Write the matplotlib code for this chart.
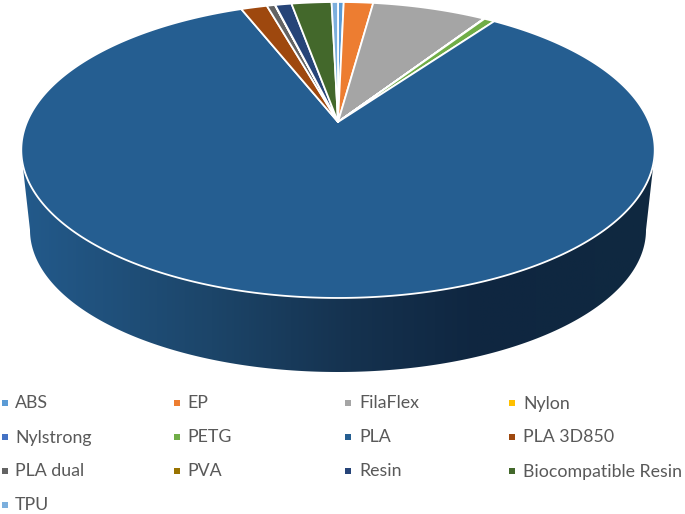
import numpy as np
import matplotlib
matplotlib.use("Agg")
import matplotlib.pyplot as plt
from matplotlib.colors import LinearSegmentedColormap
from matplotlib.patches import Polygon

categories = ["ABS", "EP", "FilaFlex", "Nylon", "Nylstrong", "PETG", "PLA", "PLA 3D850",
              "PLA dual", "PVA", "Resin", "Biocompatible Resin", "TPU"]
values = [0.35, 1.80, 7.00, 0.02, 0.02, 0.65, 84.20, 1.60, 0.50, 0.02, 1.00, 2.45, 0.39]
colors = ["#5b9bd5", "#ed7d31", "#a5a5a5", "#ffc000", "#4472c4", "#70ad47", "#255e91",
          "#9e480e", "#636363", "#997300", "#264478", "#43682b", "#7cafdd"]

fig = plt.figure(figsize=(6.85, 5.14), dpi=100)
ax = fig.add_axes([0, 0, 1, 1])
ax.set_xlim(0, 685)
ax.set_ylim(514, 0)
ax.axis("off")

# perspective projection of a unit circle
APEX = (338.0, 122.0)
K = 0.189
A = 142.7
B = 311.0


def project(theta):
    X, Y = np.sin(theta), np.cos(theta)
    w = 1 + K * Y
    return APEX[0] + B * X / w, APEX[1] - A * Y / w


# side wall
t = np.linspace(0, np.pi, 200)
low_x = 338 - 308 * np.cos(t)
low_y = 230 + 142 * np.sin(t)
up_x = 338 + 317 * np.cos(t)
up_y = 150 + 147.5 * np.sin(t)
wall = Polygon(np.column_stack([np.r_[low_x, up_x], np.r_[low_y, up_y]]),
               closed=True, transform=ax.transData, fc="none", ec="none")
ax.add_patch(wall)
cmap = LinearSegmentedColormap.from_list(
    "wall", [(0.0, "#235a8b"), (0.3, "#1c4569"), (0.52, "#15324f"), (0.72, "#0f2640"), (1.0, "#0f2940")])
img = ax.imshow(np.linspace(0, 1, 512)[None, :], cmap=cmap, aspect="auto",
                extent=(21, 655, 380, 140), zorder=1)
img.set_clip_path(wall)
ax.set_xlim(0, 685)
ax.set_ylim(514, 0)

# top face
fractions = np.cumsum([0] + values) / sum(values)
for i, (name, col) in enumerate(zip(categories, colors)):
    th = 2 * np.pi * np.linspace(fractions[i], fractions[i + 1], max(3, int(values[i] * 8)))
    x, y = project(th)
    ax.fill(np.r_[APEX[0], x], np.r_[APEX[1], y], facecolor=col, edgecolor="white",
            linewidth=1.3, joinstyle="round", zorder=2)

# legend
col_mark = [5, 177, 348, 512]
col_text = [15, 187, 359, 523]
row_y = [403, 437, 471, 505]
for i, (name, col) in enumerate(zip(categories, colors)):
    r, c = divmod(i, 4)
    ax.plot([col_mark[c]], [row_y[r]], marker="s", ms=5, color=col, mew=0, ls="none", zorder=3)
    ax.text(col_text[c], row_y[r] + 5.5, name, family="Lato", fontsize=12.8, color="#595959",
            va="baseline", ha="left", zorder=3)

fig.savefig("out.png", dpi=100)
